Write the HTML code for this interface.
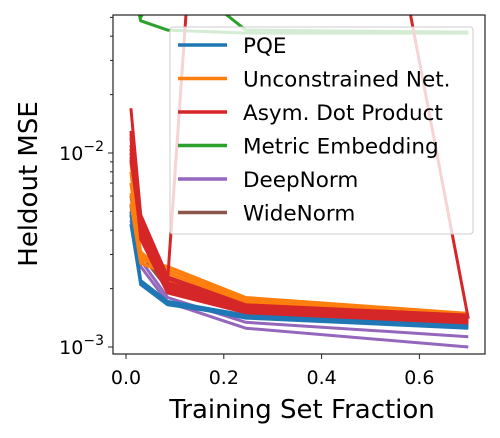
<!DOCTYPE html>
<html><head><meta charset="utf-8"><style>
html,body{margin:0;padding:0;background:#fff;}
svg{display:block;font-family:"DejaVu Sans","Liberation Sans",sans-serif;}
</style></head><body>
<svg id="chart" width="500" height="438" viewBox="0 0 500 438">
<defs><clipPath id="plotclip"><rect x="113" y="15" width="372" height="339"/></clipPath></defs>
<g id="series" clip-path="url(#plotclip)"></g>
<rect x="113" y="15" width="372" height="339" fill="none" stroke="#222" stroke-width="1.2"/>
<g id="axes"></g>
<g id="legend"></g>
<text x="302" y="418" font-size="26" text-anchor="middle">Training Set Fraction</text>
<text transform="translate(37,184) rotate(-90)" font-size="26" text-anchor="middle">Heldout MSE</text>
</svg>
<script>
const xs = [0.01, 0.03, 0.085, 0.245, 0.7];
const pqe = [[0.0054,0.0021,0.00169,0.00141,0.00125],[0.0043,0.0021,0.00165,0.00144,0.00128],[0.0048,0.0022,0.00172,0.00146,0.0013],[0.005,0.00215,0.00168,0.00143,0.00127]];
const unconstrained = [[0.009,0.0028,0.0026,0.0018,0.00149],[0.007,0.003,0.0022,0.0016,0.00135],[0.0055,0.0027,0.0024,0.0017,0.00142],[0.008,0.0029,0.0025,0.00175,0.00146],[0.0062,0.0031,0.0023,0.00165,0.00138]];
const asym = [[0.017,0.0048,0.0023,0.00165,0.00146],[0.012,0.0036,0.0019,0.0015,0.00133],[0.0092,0.0042,0.0021,0.0016,0.0014],[0.011,0.0045,0.0022,1500,0.0014],[0.013,0.004,0.002,0.00155,0.00138],[0.01,0.0038,0.00195,0.00152,0.00135],[0.0105,0.0044,0.00215,0.00162,0.00143],[0.0095,0.0039,0.00205,0.00157,0.00137],[0.0125,0.0046,0.00225,0.0016,0.00141]];
const metric = [[0.08,0.048,0.043,0.0415,0.0415],[0.07,0.05,0.09,0.043,0.042]];
const deepnorm = [[0.005,0.0028,0.0018,0.00134,0.00113],[0.0045,0.0026,0.0017,0.00125,0.001]];
const widenorm = [[0.006,0.003,0.002,0.0015,0.0013]];
const xTicks = [0, 0.2, 0.4, 0.6];
const xTickLabels = ["0.0","0.2","0.4","0.6"];
const legendLabels = ["PQE","Unconstrained Net.","Asym. Dot Product","Metric Embedding","DeepNorm","WideNorm"];
const colors = ["#1f77b4","#ff7f0e","#d62728","#2ca02c","#9467bd","#8c564b"];

const NS="http://www.w3.org/2000/svg";
function X(v){return 126+v*489;}
function Y(v){return 153-(Math.log10(v)+2)*194;}
function mk(tag,attrs,parent){const e=document.createElementNS(NS,tag);for(const k in attrs)e.setAttribute(k,attrs[k]);parent.appendChild(e);return e;}

const sg=document.getElementById('series');
const groups=[[widenorm,5],[metric,3],[deepnorm,4],[pqe,0],[unconstrained,1],[asym,2]];
groups.forEach(([data,ci])=>{
  data.forEach((row)=>{
    const pts=row.map((v,i)=>X(xs[i]).toFixed(1)+","+Y(v).toFixed(1)).join(" ");
    const p=mk('polyline',{points:pts,fill:'none',stroke:colors[ci],'stroke-width':3,'stroke-linejoin':'round'},sg);
    
    
  });
});

const ax=document.getElementById('axes');
xTicks.forEach((t,i)=>{
  const l=mk('line',{x1:X(t),x2:X(t),y1:354,y2:359,stroke:'#222','stroke-width':1},ax);
  
  
  const tx=mk('text',{x:X(t),y:384,'font-size':19,'text-anchor':'middle'},ax);
  tx.textContent=xTickLabels[i];
  
  
});
for(let d=-3;d<=-1;d++){
  for(let m=1;m<=9;m++){
    const v=m*Math.pow(10,d);const y=Y(v);
    if(y<15||y>354)continue;
    const len=m===1?5:3;
    const l=mk('line',{x1:113-len,x2:113,y1:y,y2:y,stroke:'#222','stroke-width':1},ax);
    
    
    if(m===1){
      const tx=mk('text',{x:104,y:y+7,'font-size':19,'text-anchor':'end'},ax);
      tx.innerHTML='10<tspan dy="-9" font-size="14">−'+(-d)+'</tspan>';
      
      
    }
  }
}

const lg=document.getElementById('legend');
const box=mk('rect',{x:170,y:27,width:303,height:207,rx:3,fill:'#fff','fill-opacity':0.8,stroke:'#ccc','stroke-width':1},lg);


legendLabels.forEach((lab,i)=>{
  const y=45+i*33.5;
  const l=mk('line',{x1:178,x2:227,y1:y,y2:y,stroke:colors[i],'stroke-width':3.5},lg);
  
  
  const t=mk('text',{x:243,y:y+8,'font-size':21.5},lg);
  t.textContent=lab;
  
  
});
</script>
</body></html>
